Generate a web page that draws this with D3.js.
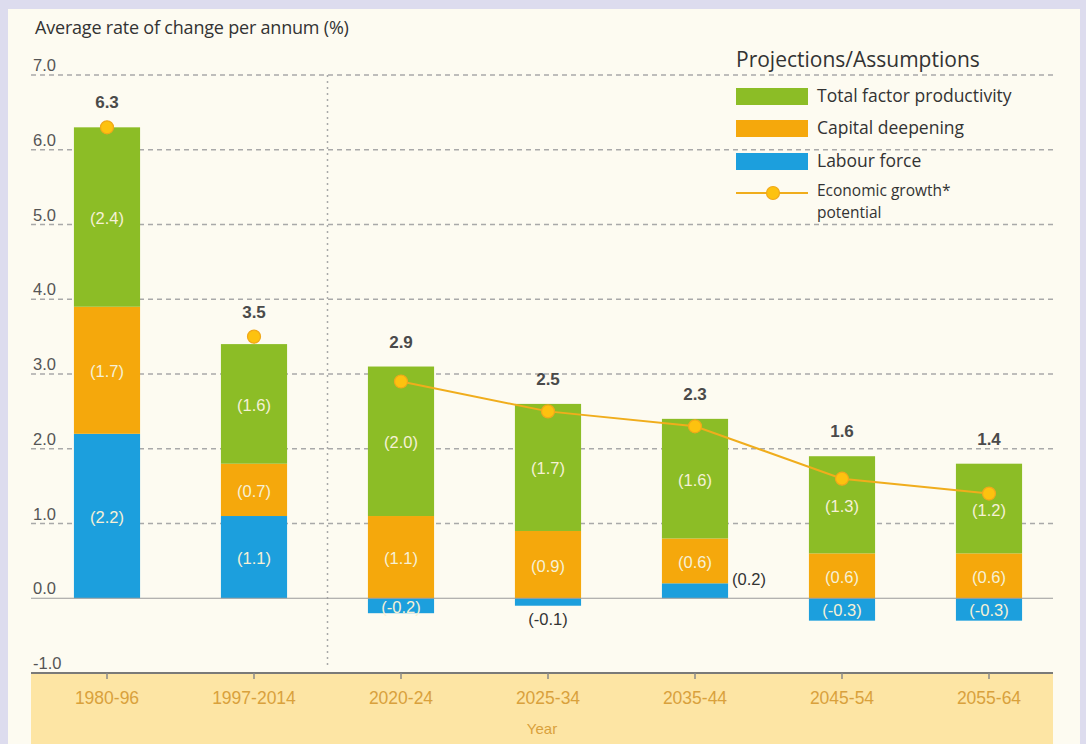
<!DOCTYPE html>
<html>
<head>
<meta charset="utf-8">
<script src="https://cdn.jsdelivr.net/npm/d3@7"></script>
<style>
  body { margin: 0; background: #dddcee; }
  svg { display: block; }
</style>
</head>
<body>
<div id="chart"></div>
<script>
/* DATA */
const periods = ["1980-96", "1997-2014", "2020-24", "2025-34", "2035-44", "2045-54", "2055-64"];
const labourForce = [2.2, 1.1, -0.2, -0.1, 0.2, -0.3, -0.3];
const capitalDeepening = [1.7, 0.7, 1.1, 0.9, 0.6, 0.6, 0.6];
const totalFactorProductivity = [2.4, 1.6, 2.0, 1.7, 1.6, 1.3, 1.2];
const growthPotential = [6.3, 3.5, 2.9, 2.5, 2.3, 1.6, 1.4];
const yTicks = [-1, 0, 1, 2, 3, 4, 5, 6, 7];
const firstProjection = 2; // index where projections start

/* CONSTANTS */
const width = 1086,
  height = 744;
const colors = { tfp: "#8cbd26", capital: "#f5a80c", labour: "#1c9fdd", line: "#f0ad1c", dot: "#fdc20f" };
const numFont = "'Liberation Sans', Arial, sans-serif";
const textFont = "'Open Sans', 'DejaVu Sans', sans-serif";
const fmt = v => v.toFixed(1); // plain hyphen for negatives, like the original

const svg = d3.select("#chart").append("svg")
  .attr("width", width)
  .attr("height", height);

// panel
svg.append("rect")
  .attr("x", 8).attr("y", 9)
  .attr("width", 1072).attr("height", height - 9)
  .attr("fill", "#fdfbf1");

// scales
const xScale = d3.scaleBand()
  .domain(periods)
  .range([33.5, 1062.5])
  .paddingInner(0.55)
  .paddingOuter(0.275);

const yScale = d3.scaleLinear()
  .domain([-1, 7])
  .range([673, 75]);

const gridLeft = 31, gridRight = 1053;
const cx = p => xScale(p) + xScale.bandwidth() / 2;

// x axis band
svg.append("rect")
  .attr("x", gridLeft).attr("y", yScale(-1))
  .attr("width", gridRight - gridLeft).attr("height", height - yScale(-1))
  .attr("fill", "#fde5a4");

// grid lines
svg.selectAll(".grid")
  .data(yTicks.filter(d => d > 0))
  .join("line")
  .attr("class", "grid")
  .attr("x1", gridLeft).attr("x2", gridRight)
  .attr("y1", d => yScale(d)).attr("y2", d => yScale(d))
  .attr("stroke", "#a9a9a9")
  .attr("stroke-width", 1.3)
  .attr("stroke-dasharray", "5,4");

// divider between history and projections
const divX = (xScale(periods[1]) + xScale.bandwidth() + xScale(periods[2])) / 2;
svg.append("line")
  .attr("x1", divX).attr("x2", divX)
  .attr("y1", yScale(7)).attr("y2", yScale(-1) - 6)
  .attr("stroke", "#a9a9a9")
  .attr("stroke-width", 1.5)
  .attr("stroke-dasharray", "2,4");

// y tick labels
svg.selectAll(".ytick")
  .data(yTicks)
  .join("text")
  .attr("class", "ytick")
  .attr("x", 33)
  .attr("y", d => yScale(d) - 4)
  .attr("font-family", numFont)
  .attr("font-size", 16.5)
  .attr("fill", "#555")
  .text(d => fmt(d));

// axis title
svg.append("text")
  .attr("x", 35).attr("y", 34)
  .attr("font-family", textFont)
  .attr("font-size", 18)
  .attr("letter-spacing", "-0.2")
  .attr("fill", "#333")
  .text("Average rate of change per annum (%)");

// stacked segments
const rows = periods.map((p, i) => {
  const segs = [];
  let pos = 0;
  const l = labourForce[i];
  if (l >= 0) { segs.push({ key: "labour", y0: 0, y1: l, v: l }); pos = l; }
  else segs.push({ key: "labour", y0: l, y1: 0, v: l });
  segs.push({ key: "capital", y0: pos, y1: pos + capitalDeepening[i], v: capitalDeepening[i] });
  pos += capitalDeepening[i];
  segs.push({ key: "tfp", y0: pos, y1: pos + totalFactorProductivity[i], v: totalFactorProductivity[i] });
  pos += totalFactorProductivity[i];
  return { period: p, segs, top: pos, growth: growthPotential[i], i };
});

const groups = svg.selectAll(".bar")
  .data(rows)
  .join("g")
  .attr("class", "bar")
  .attr("transform", d => `translate(${xScale(d.period)},0)`);

groups.selectAll("rect")
  .data(d => d.segs)
  .join("rect")
  .attr("x", 0)
  .attr("width", xScale.bandwidth())
  .attr("y", d => yScale(d.y1))
  .attr("height", d => yScale(d.y0) - yScale(d.y1))
  .attr("fill", d => colors[d.key]);

// zero line
svg.append("line")
  .attr("x1", gridLeft).attr("x2", gridRight)
  .attr("y1", yScale(0)).attr("y2", yScale(0))
  .attr("stroke", "#9a9a9a")
  .attr("stroke-width", 1.2);

// bottom axis line + ticks
svg.append("line")
  .attr("x1", gridLeft).attr("x2", gridRight)
  .attr("y1", yScale(-1)).attr("y2", yScale(-1))
  .attr("stroke", "#7a7a78")
  .attr("stroke-width", 2.2);

svg.selectAll(".xtick")
  .data(periods)
  .join("line")
  .attr("class", "xtick")
  .attr("x1", cx).attr("x2", cx)
  .attr("y1", yScale(-1)).attr("y2", yScale(-1) + 6)
  .attr("stroke", "#8a8a88")
  .attr("stroke-width", 1.5);

svg.selectAll(".xlabel")
  .data(periods)
  .join("text")
  .attr("class", "xlabel")
  .attr("x", cx)
  .attr("y", 704)
  .attr("text-anchor", "middle")
  .attr("font-family", numFont)
  .attr("font-size", 17.5)
  .attr("fill", "#d9a13c")
  .text(d => d);

svg.append("text")
  .attr("x", 542).attr("y", 734)
  .attr("text-anchor", "middle")
  .attr("font-family", numFont)
  .attr("font-size", 15)
  .attr("fill", "#d9a13c")
  .text("Year");

// segment labels
const outsideRight = d => d.v > 0 && d.v < 0.25;
const outsideBelow = d => d.v < 0 && d.v > -0.15;
groups.selectAll(".seglabel")
  .data(d => d.segs)
  .join("text")
  .attr("class", "seglabel")
  .attr("font-family", numFont)
  .attr("font-size", 16.5)
  .attr("text-anchor", d => outsideRight(d) ? "start" : "middle")
  .attr("x", d => outsideRight(d) ? xScale.bandwidth() + 4 : xScale.bandwidth() / 2)
  .attr("y", d => {
    if (outsideRight(d)) return yScale(d.y1) + 2;
    if (outsideBelow(d)) return yScale(d.y0) + 19;
    return yScale((d.y0 + d.y1) / 2) + 7;
  })
  .attr("fill", d => (outsideRight(d) || outsideBelow(d)) ? "#333" : "#f6f1d6")
  .text(d => `(${fmt(d.v)})`);

// growth line (projections only)
const lineGen = d3.line()
  .x(d => cx(d.period))
  .y(d => yScale(d.growth));

svg.append("path")
  .datum(rows.filter(d => d.i >= firstProjection))
  .attr("d", lineGen)
  .attr("fill", "none")
  .attr("stroke", colors.line)
  .attr("stroke-width", 2);

svg.selectAll(".dot")
  .data(rows)
  .join("circle")
  .attr("class", "dot")
  .attr("cx", d => cx(d.period))
  .attr("cy", d => yScale(d.growth))
  .attr("r", 6.5)
  .attr("fill", colors.dot)
  .attr("stroke", "#f0a81a")
  .attr("stroke-width", 1.2);

// total labels
svg.selectAll(".total")
  .data(rows)
  .join("text")
  .attr("class", "total")
  .attr("x", d => cx(d.period))
  .attr("y", d => Math.min(yScale(d.top), yScale(d.growth)) - 19)
  .attr("text-anchor", "middle")
  .attr("font-family", numFont)
  .attr("font-size", 17)
  .attr("font-weight", "bold")
  .attr("fill", "#4a4a4a")
  .text(d => fmt(d.growth));

// legend
const legend = svg.append("g").attr("transform", "translate(736,0)");
legend.append("text")
  .attr("x", 0).attr("y", 67)
  .attr("font-family", textFont)
  .attr("font-size", 21)
  .attr("fill", "#333")
  .text("Projections/Assumptions");

const legendItems = [
  { label: "Total factor productivity", color: colors.tfp, y: 88 },
  { label: "Capital deepening", color: colors.capital, y: 120 },
  { label: "Labour force", color: colors.labour, y: 153 }
];
legend.selectAll(".sw")
  .data(legendItems)
  .join("rect")
  .attr("class", "sw")
  .attr("x", 0).attr("y", d => d.y)
  .attr("width", 72).attr("height", 17)
  .attr("fill", d => d.color);
legend.selectAll(".lt")
  .data(legendItems)
  .join("text")
  .attr("class", "lt")
  .attr("x", 81).attr("y", d => d.y + 14)
  .attr("font-family", textFont)
  .attr("font-size", 17.5)
  .attr("fill", "#333")
  .text(d => d.label);

legend.append("line")
  .attr("x1", 0).attr("x2", 72)
  .attr("y1", 193).attr("y2", 193)
  .attr("stroke", colors.line).attr("stroke-width", 2);
legend.append("circle")
  .attr("cx", 37).attr("cy", 193).attr("r", 6.5)
  .attr("fill", colors.dot).attr("stroke", "#f0a81a").attr("stroke-width", 1.2);
legend.append("text")
  .attr("x", 81).attr("y", 196)
  .attr("font-family", textFont)
  .attr("font-size", 15.5)
  .attr("fill", "#333")
  .text("Economic growth*");
legend.append("text")
  .attr("x", 81).attr("y", 218)
  .attr("font-family", textFont)
  .attr("font-size", 15.5)
  .attr("fill", "#333")
  .text("potential");
</script>
</body>
</html>
